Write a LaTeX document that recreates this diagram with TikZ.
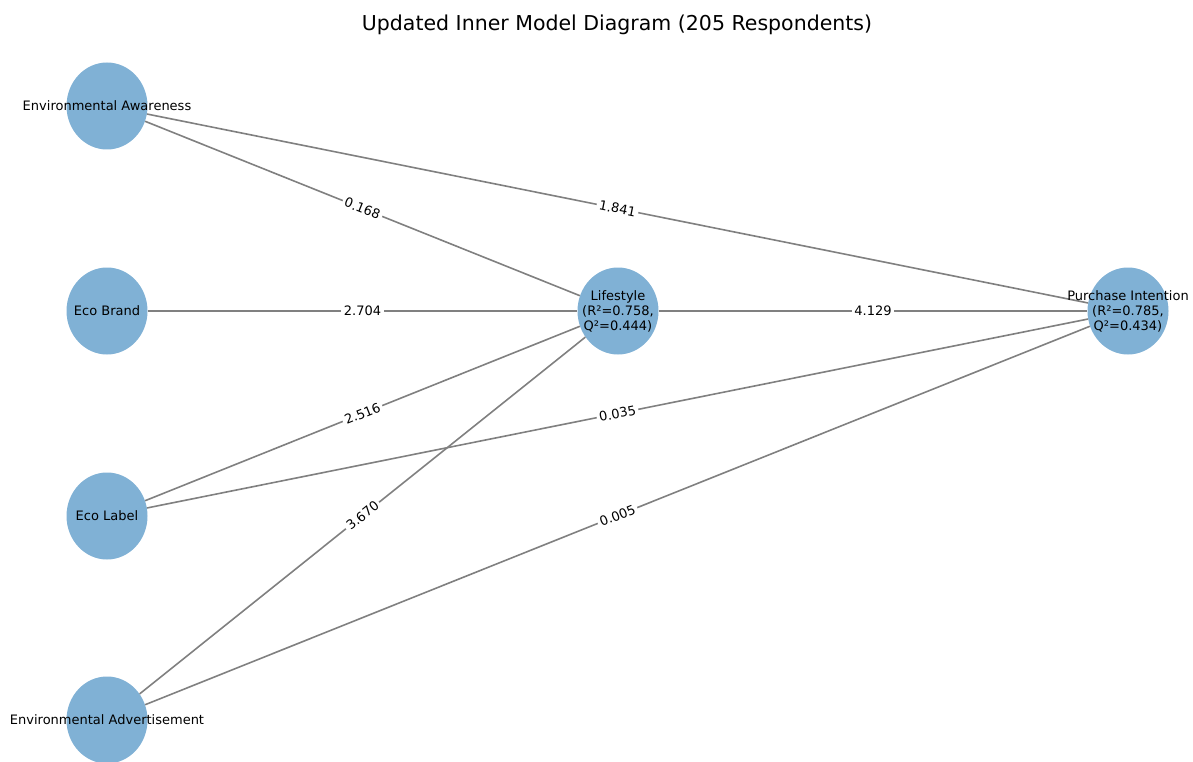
\documentclass[tikz,border=0pt]{standalone}
\usepackage{fontspec}
\setmainfont{DejaVu Sans}
\usetikzlibrary{shapes.geometric}
\definecolor{nodeblue}{RGB}{128,177,213}
\definecolor{edgegray}{RGB}{128,128,128}
\tikzset{
  var/.style={ellipse,fill=nodeblue,minimum width=81pt,minimum height=87pt,inner sep=0pt},
  varname/.style={align=center,inner sep=0pt,font=\fontsize{13}{15}\selectfont},
  link/.style={draw=edgegray,line width=1.6pt},
  weight/.style={sloped,fill=white,inner sep=2.5pt,font=\fontsize{13}{15}\selectfont}
}

\begin{document}
\begin{tikzpicture}[x=1pt,y=-1pt]
  \useasboundingbox (0,0) rectangle (1193,762);
  \node[font=\fontsize{20.5}{24}\selectfont] (title) at (617,25) {Updated Inner Model Diagram (205 Respondents)};
  \node[var] (ea) at (107,106) {};
  \node[var] (eb) at (107,311) {};
  \node[var] (el) at (107,516) {};
  \node[var] (ead) at (107,720) {};
  \node[var] (ls) at (618,311) {};
  \node[var] (pi) at (1128,311) {};
  \draw [link] (ea) -- node[weight]{0.168} (ls);
  \draw [link] (ea) -- node[weight]{1.841} (pi);
  \draw [link] (eb) -- node[weight]{2.704} (ls);
  \draw [link] (ls) -- node[weight]{4.129} (pi);
  \draw [link] (el) -- node[weight]{2.516} (ls);
  \draw [link] (el) -- node[weight]{0.035} (pi);
  \draw [link] (ead) -- node[weight]{3.670} (ls);
  \draw [link] (ead) -- node[weight]{0.005} (pi);
  \node[varname] (ealbl) at (ea) {Environmental Awareness};
  \node[varname] (eblbl) at (eb) {Eco Brand};
  \node[varname] (ellbl) at (el) {Eco Label};
  \node[varname] (eadlbl) at (ead) {Environmental Advertisement};
  \node[varname] (lslbl) at (ls) {Lifestyle\\(R²=0.758,\\Q²=0.444)};
  \node[varname] (pilbl) at (pi) {Purchase Intention\\(R²=0.785,\\Q²=0.434)};
\end{tikzpicture}
\end{document}
